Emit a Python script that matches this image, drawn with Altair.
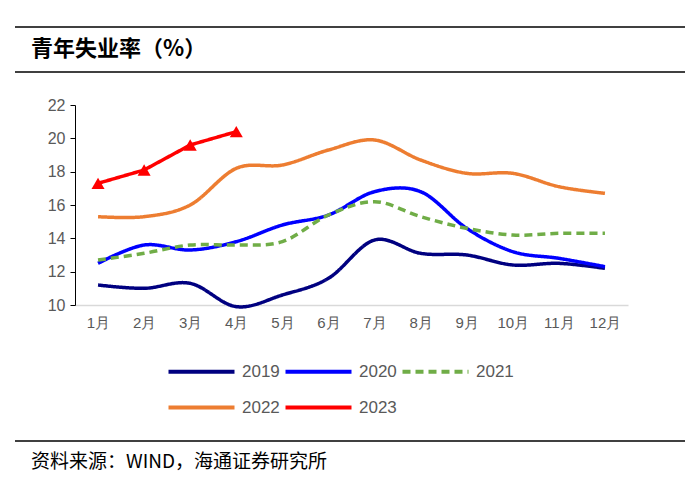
import altair as alt
import pandas as pd

months = ["1月", "2月", "3月", "4月", "5月", "6月", "7月", "8月", "9月", "10月", "11月", "12月"]
years = ["2019", "2020", "2021", "2022", "2023"]
y2019 = [11.2, 11.0, 11.3, 9.9, 10.6, 11.6, 13.9, 13.1, 13.0, 12.4, 12.5, 12.2]
y2020 = [12.5, 13.6, 13.3, 13.8, 14.8, 15.4, 16.8, 16.8, 14.6, 13.2, 12.8, 12.3]
y2021 = [12.7, 13.1, 13.6, 13.6, 13.8, 15.4, 16.2, 15.3, 14.6, 14.2, 14.3, 14.3]
y2022 = [15.3, 15.3, 16.0, 18.2, 18.4, 19.3, 19.9, 18.7, 17.9, 17.9, 17.1, 16.7]
y2023 = [17.3, 18.1, 19.6, 20.4]
colors = ["#000080", "#0000FF", "#70AD47", "#ED7D31", "#FF0000"]
dashes = [[1, 0], [1, 0], [8, 5], [1, 0], [1, 0]]

rows = []
for yr, vals in zip(years, [y2019, y2020, y2021, y2022, y2023]):
    for m, v in zip(months, vals):
        rows.append({"month": m, "year": yr, "value": v})
df = pd.DataFrame(rows)
df_smooth = df[df["year"] != "2023"]
df_2023 = df[df["year"] == "2023"]

FONT = "Liberation Sans"
legend = alt.Legend(
    orient="none", legendX=118, legendY=258, columns=3, direction="horizontal", title=None,
    symbolType="M-6.6,0H6.6", symbolSize=100, symbolStrokeWidth=4,
    labelFont=FONT, labelFontSize=17, labelColor="#595959",
    labelOffset=32, columnPadding=-3, rowPadding=18,
)

x_enc = alt.X("month:N", sort=months, scale=alt.Scale(type="point", padding=0.5),
              axis=alt.Axis(title=None, labelAngle=0, ticks=False, domainColor="#d9d9d9",
                            domainWidth=1.5, labelPadding=10, labelFontSize=15,
                            labelColor="#595959", labelFont=FONT))
y_enc = alt.Y("value:Q", scale=alt.Scale(domain=[10, 22], nice=False, zero=False),
              axis=alt.Axis(title=None, values=[10, 12, 14, 16, 18, 20, 22], grid=False,
                            domainColor="black", tickColor="black", tickSize=5,
                            labelPadding=5, labelFontSize=16, labelColor="#595959",
                            labelFont=FONT))
color_enc = alt.Color("year:N", scale=alt.Scale(domain=years, range=colors), legend=legend)
dash_enc = alt.StrokeDash("year:N", scale=alt.Scale(domain=years, range=dashes), legend=legend)

smooth = alt.Chart(df_smooth).mark_line(interpolate="cardinal", strokeWidth=3.5).encode(
    x=x_enc, y=y_enc, color=color_enc, strokeDash=dash_enc)
line23 = alt.Chart(df_2023).mark_line(strokeWidth=3.5).encode(
    x=x_enc, y=y_enc, color=color_enc, strokeDash=dash_enc)
pts23 = alt.Chart(df_2023).mark_point(shape="triangle-up", filled=True, size=170, opacity=1).encode(
    x=x_enc, y=y_enc, color=alt.value("#FF0000"))

one = pd.DataFrame({"a": [0]})
rule_top = alt.Chart(one).mark_rule(color="black", strokeWidth=1.5).encode(
    x=alt.value(-60), x2=alt.value(610), y=alt.value(-78))
rule_mid = alt.Chart(one).mark_rule(color="black", strokeWidth=1.5).encode(
    x=alt.value(-60), x2=alt.value(610), y=alt.value(-33))
rule_bot = alt.Chart(one).mark_rule(color="black", strokeWidth=1.5).encode(
    x=alt.value(-60), x2=alt.value(610), y=alt.value(336))
title = alt.Chart(one).mark_text(text="青年失业率（%）", font="Noto Sans CJK SC", fontSize=22,
                                 fontWeight="bold", align="left", baseline="middle",
                                 color="black").encode(x=alt.value(-44), y=alt.value(-56))
source = alt.Chart(one).mark_text(text="资料来源：WIND，海通证券研究所", font="Noto Sans CJK SC",
                                  fontSize=19, align="left", baseline="middle",
                                  color="black").encode(x=alt.value(-44), y=alt.value(357))

chart = alt.layer(smooth, line23, pts23, rule_top, rule_mid, rule_bot, title, source).properties(
    width=553, height=200,
    autosize=alt.AutoSizeParams(type="none"),
    padding={"left": 67, "top": 97, "right": 64, "bottom": 170},
).configure_view(stroke=None)

chart.save("out.html", embed_options={"renderer": "svg", "actions": False})
